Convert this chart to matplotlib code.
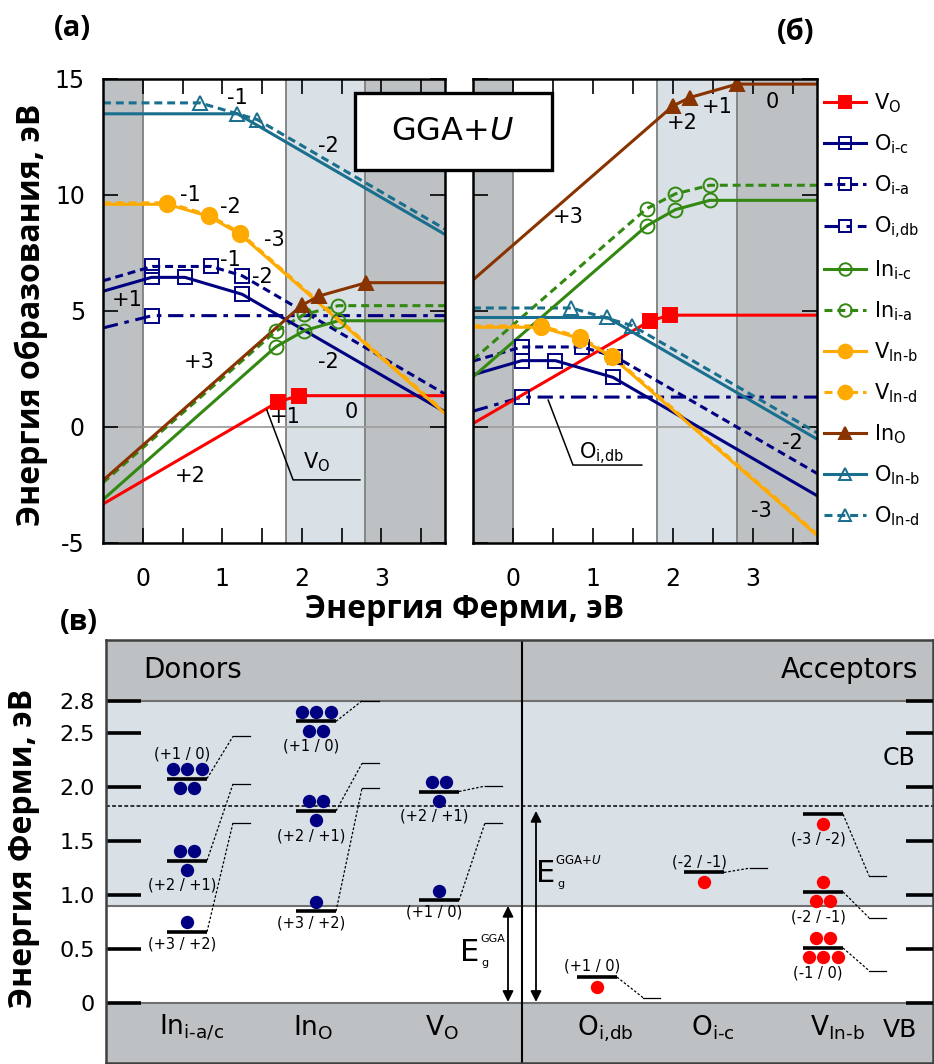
import matplotlib.pyplot as plt
from matplotlib.lines import Line2D
from matplotlib.patches import Rectangle

plt.rcParams['font.family'] = ['DejaVu Sans']
plt.rcParams['mathtext.fontset'] = 'dejavusans'
plt.rcParams['axes.unicode_minus'] = False

# ---- panel (a): formation energy vs Fermi level, breakpoints (x, y) ----
a_vo_x = [-0.5, 1.70, 1.96, 3.8]
a_vo_y = [-3.32, 1.08, 1.35, 1.35]
a_oic_x = [-0.5, 0.11, 0.53, 1.25, 3.8]
a_oic_y = [5.85, 6.45, 6.45, 5.72, 0.65]
a_oia_x = [-0.5, 0.12, 0.86, 1.25, 3.8]
a_oia_y = [6.30, 6.92, 6.92, 6.52, 1.42]
a_oidb_x = [-0.5, 0.12, 3.8]
a_oidb_y = [4.27, 4.80, 4.80]
a_inic_x = [-0.5, 1.67, 2.03, 2.46, 3.8]
a_inic_y = [-3.13, 3.45, 4.15, 4.58, 4.58]
a_inia_x = [-0.5, 1.67, 2.03, 2.46, 3.8]
a_inia_y = [-2.40, 4.12, 4.85, 5.23, 5.23]
a_vinb_x = [-0.5, 0.31, 0.83, 1.22, 3.8]
a_vinb_y = [9.60, 9.60, 9.08, 8.32, 0.58]
a_vind_x = [-0.5, 0.31, 0.83, 1.22, 3.8]
a_vind_y = [9.66, 9.66, 9.14, 8.38, 0.64]
a_ino_x = [-0.5, 2.00, 2.22, 2.81, 3.8]
a_ino_y = [-2.30, 5.25, 5.65, 6.22, 6.22]
a_oinb_x = [-0.5, 1.19, 3.8]
a_oinb_y = [13.50, 13.50, 8.30]
a_oind_x = [-0.5, 0.72, 1.44, 3.8]
a_oind_y = [13.97, 13.97, 13.25, 8.53]

# ---- panel (б) ----
b_vo_x = [-0.5, 1.71, 1.96, 3.8]
b_vo_y = [0.15, 4.57, 4.82, 4.82]
b_oic_x = [-0.5, 0.11, 0.53, 1.25, 3.8]
b_oic_y = [2.25, 2.86, 2.86, 2.14, -2.96]
b_oia_x = [-0.5, 0.11, 0.86, 1.28, 3.8]
b_oia_y = [2.84, 3.45, 3.45, 3.03, -2.00]
b_oidb_x = [-0.5, 0.11, 3.8]
b_oidb_y = [0.68, 1.29, 1.29]
b_inic_x = [-0.5, 1.67, 2.03, 2.46, 3.8]
b_inic_y = [2.16, 8.67, 9.37, 9.77, 9.77]
b_inia_x = [-0.5, 1.67, 2.03, 2.46, 3.8]
b_inia_y = [2.90, 9.41, 10.05, 10.42, 10.42]
b_vinb_x = [-0.5, 0.35, 0.84, 1.24, 3.8]
b_vinb_y = [4.30, 4.30, 3.81, 3.01, -4.67]
b_vind_x = [-0.5, 0.35, 0.84, 1.24, 3.8]
b_vind_y = [4.36, 4.36, 3.87, 3.07, -4.61]
b_ino_x = [-0.5, 2.00, 2.21, 2.80, 3.8]
b_ino_y = [6.34, 13.84, 14.20, 14.78, 14.78]
b_oinb_x = [-0.5, 1.18, 3.8]
b_oinb_y = [4.72, 4.72, -0.52]
b_oind_x = [-0.5, 0.73, 1.49, 3.8]
b_oind_y = [5.13, 5.13, 4.37, -0.25]

series_names = [r'V$_\mathrm{O}$', r'O$_\mathrm{i‐c}$', r'O$_\mathrm{i‐a}$', r'O$_\mathrm{i{,}db}$',
                r'In$_\mathrm{i‐c}$', r'In$_\mathrm{i‐a}$', r'V$_\mathrm{In‐b}$', r'V$_\mathrm{In‐d}$',
                r'In$_\mathrm{O}$', r'O$_\mathrm{In‐b}$', r'O$_\mathrm{In‐d}$']

# charge-state labels (text, x, y)
a_charges = [('-1', 1.19, 14.2), ('-2', 2.33, 12.1), ('-1', 0.60, 10.0), ('-2', 1.10, 9.5),
             ('-3', 1.65, 8.06), ('-1', 1.10, 7.2), ('-2', 1.50, 6.47), ('+1', -0.20, 5.47),
             ('+3', 0.71, 2.8), ('-2', 2.33, 2.8), ('+1', 1.79, 0.43), ('0', 2.62, 0.65),
             ('+2', 0.60, -2.1)]
b_charges = [('+2', 2.12, 13.1), ('+1', 2.55, 13.8), ('0', 3.24, 14.0), ('+3', 0.69, 9.05),
             ('-2', 3.49, -0.69), ('-3', 3.11, -3.6)]

# ---- panel (в): transition levels ----
col_names = [r'In$_\mathrm{i‐a/c}$', r'In$_\mathrm{O}$', r'V$_\mathrm{O}$',
             r'O$_\mathrm{i{,}db}$', r'O$_\mathrm{i‐c}$', r'V$_\mathrm{In‐b}$']
lvl_col = [0, 0, 0, 1, 1, 1, 2, 2, 3, 4, 5, 5, 5]
lvl_name = ['(+1 / 0)', '(+2 / +1)', '(+3 / +2)', '(+1 / 0)', '(+2 / +1)', '(+3 / +2)',
            '(+2 / +1)', '(+1 / 0)', '(+1 / 0)', '(-2 / -1)', '(-3 / -2)', '(-2 / -1)', '(-1 / 0)']
lvl_E = [2.08, 1.32, 0.66, 2.61, 1.78, 0.85, 1.96, 0.95, 0.24, 1.21, 1.75, 1.03, 0.51]
lvl_E_gga = [2.47, 2.03, 1.67, 2.80, 2.22, 1.99, 2.01, 1.67, 0.05, 1.25, 1.18, 0.79, 0.30]
lvl_dots_up = [3, 2, 1, 3, 2, 1, 2, 1, 0, 0, 0, 1, 2]
lvl_dots_dn = [2, 1, 0, 2, 1, 0, 1, 0, 1, 1, 1, 2, 3]
lvl_label_up = [True, False, False, False, False, False, False, False, True, True, False, False, False]
gap_gga = 0.9
gap_ggau = 1.83
cb_edge = 2.8

# colours / styles
dark = '#bdc1c4'
light = '#d9e0e6'
edge = '#7f7f7f'
c_red, c_navy, c_green = '#ff0000', '#000080', '#338811'
c_orange, c_brown, c_teal = '#ffaa00', '#883300', '#1a6e8e'
dash = (0, (2.6, 1.6))
dashdot = (0, (5, 2.2, 1.5, 2.2))
styles = [
    dict(color=c_red, ls='-', marker='s', mfc=c_red, ms=10),
    dict(color=c_navy, ls='-', marker='s', mfc='none', ms=10),
    dict(color=c_navy, ls=dash, marker='s', mfc='none', ms=10),
    dict(color=c_navy, ls=dashdot, marker='s', mfc='none', ms=10),
    dict(color=c_green, ls='-', marker='o', mfc='none', ms=10),
    dict(color=c_green, ls=dash, marker='o', mfc='none', ms=10),
    dict(color=c_orange, ls='-', marker='o', mfc=c_orange, ms=11),
    dict(color=c_orange, ls=dash, marker='o', mfc=c_orange, ms=11),
    dict(color=c_brown, ls='-', marker='^', mfc=c_brown, ms=10),
    dict(color=c_teal, ls='-', marker='^', mfc='none', ms=10),
    dict(color=c_teal, ls=dash, marker='^', mfc='none', ms=10),
]

fig = plt.figure(figsize=(9.34, 10.64), dpi=100)
W, H = 934.0, 1064.0
axA = fig.add_axes([103 / W, 1 - 543 / H, 342 / W, 464 / H])
axB = fig.add_axes([473 / W, 1 - 543 / H, 344 / W, 464 / H])


def top_panel(ax, data, charges, ylab):
    ax.set_xlim(-0.5, 3.8)
    ax.set_ylim(-5, 15)
    ax.axvspan(-0.5, 0, color=dark, lw=0, zorder=0)
    ax.axvspan(1.8, 2.8, color=light, lw=0, zorder=0)
    ax.axvspan(2.8, 3.8, color=dark, lw=0, zorder=0)
    for xv in [0, 1.8, 2.8]:
        ax.axvline(xv, color=edge, lw=1.3, zorder=1)
    ax.axhline(0, color='#a0a0a0', lw=1.3, zorder=1)
    # draw dashed versions first so solid ones sit on top
    order = [2, 3, 5, 7, 10, 0, 1, 4, 6, 8, 9]
    for k in order:
        xs, ys = data[k]
        st = styles[k]
        ax.plot(xs, ys, color=st['color'], ls=st['ls'], lw=2.2, zorder=3)
        ax.plot(xs[1:-1], ys[1:-1], ls='none', marker=st['marker'], ms=st['ms'],
                mfc=st['mfc'], mec=st['color'], mew=1.4, zorder=4)
    for t, x, y in charges:
        ax.text(x, y, t, fontsize=15, ha='center', va='center', zorder=5)
    ax.set_xticks([0, 1, 2, 3])
    ax.set_xticks([0.5, 1.5, 2.5, 3.5], minor=True)
    ax.set_yticks([-5, 0, 5, 10, 15])
    ax.tick_params(which='both', direction='in', length=11, width=1.2,
                   top=True, right=True, labelsize=17)
    ax.tick_params(axis='x', pad=17)
    ax.tick_params(axis='y', pad=13, labelleft=ylab)
    for s in ax.spines.values():
        s.set_linewidth(1.8)
        s.set_zorder(6)


dataA = [(a_vo_x, a_vo_y), (a_oic_x, a_oic_y), (a_oia_x, a_oia_y), (a_oidb_x, a_oidb_y),
         (a_inic_x, a_inic_y), (a_inia_x, a_inia_y), (a_vinb_x, a_vinb_y), (a_vind_x, a_vind_y),
         (a_ino_x, a_ino_y), (a_oinb_x, a_oinb_y), (a_oind_x, a_oind_y)]
dataB = [(b_vo_x, b_vo_y), (b_oic_x, b_oic_y), (b_oia_x, b_oia_y), (b_oidb_x, b_oidb_y),
         (b_inic_x, b_inic_y), (b_inia_x, b_inia_y), (b_vinb_x, b_vinb_y), (b_vind_x, b_vind_y),
         (b_ino_x, b_ino_y), (b_oinb_x, b_oinb_y), (b_oind_x, b_oind_y)]
top_panel(axA, dataA, a_charges, True)
top_panel(axB, dataB, b_charges, False)

# leader lines with labels
axA.plot([1.56, 1.89, 2.73], [0.73, -2.28, -2.28], color='k', lw=1.1, zorder=5)
axA.text(2.19, -1.5, r'V$_\mathrm{O}$', fontsize=15, ha='center', va='center')
axB.plot([0.44, 0.75, 1.61], [1.16, -1.64, -1.64], color='k', lw=1.1, zorder=5)
axB.text(1.11, -1.16, r'O$_\mathrm{i{,}db}$', fontsize=15, ha='center', va='center')

# GGA+U box between the panels
fig.add_artist(Rectangle((355 / W, 1 - 170 / H), 197 / W, 77 / H, transform=fig.transFigure,
                         facecolor='white', edgecolor='black', lw=2.4, zorder=10))
fig.text(453 / W, 1 - 132 / H, r'GGA+$U$', fontsize=23, ha='center', va='center', zorder=11)

# legend
handles = []
for st in styles:
    handles.append(Line2D([0], [0], color=st['color'], ls=st['ls'], lw=2.2, marker=st['marker'],
                          ms=st['ms'] * 0.9, mfc=st['mfc'], mec=st['color'], mew=1.4))
fig.legend(handles, series_names, loc='upper left', bbox_to_anchor=(824 / W, 1 - 91 / H),
           frameon=False, fontsize=15, handlelength=2.0, handletextpad=0.4,
           labelspacing=0.84, borderaxespad=0, borderpad=0)

bold = dict(family=['Open Sans', 'DejaVu Sans'], weight='bold', fontsize=23)
fig.text(465 / W, 1 - 610 / H, 'Энергия Ферми, эВ', ha='center', va='center', **bold)
fig.text(31 / W, 1 - 315 / H, 'Энергия образования, эВ', ha='center', va='center',
         rotation=90, **bold)
fig.text(24 / W, 1 - 848 / H, 'Энергия Ферми, эВ', ha='center', va='center', rotation=90, **bold)
panel = dict(family=['Open Sans', 'DejaVu Sans'], weight='bold', fontsize=21)
fig.text(72 / W, 1 - 29 / H, '(а)', ha='center', va='center', **panel)
fig.text(796 / W, 1 - 32 / H, '(б)', ha='center', va='center', **panel)
fig.text(79 / W, 1 - 622 / H, '(в)', ha='center', va='center', **panel)

# ---- bottom panel ----
axC = fig.add_axes([106 / W, 1 - 1063 / H, 827 / W, 423 / H])
col_x = [187, 316, 439, 597, 704, 823]
col_lab_x = [192, 313, 442, 605, 713, 837]
axC.set_xlim(106, 933)
axC.set_ylim(-0.556, 3.364)
axC.axhspan(-0.556, 0, color=dark, lw=0, zorder=0)
axC.axhspan(gap_gga, cb_edge, color=light, lw=0, zorder=0)
axC.axhspan(cb_edge, 3.364, color=dark, lw=0, zorder=0)
for yv in [0, gap_gga, cb_edge]:
    axC.axhline(yv, color='#707070', lw=1.5, zorder=1)
axC.axhline(gap_ggau, color='k', lw=1.1, ls=(0, (2.5, 1.5)), zorder=2)
axC.axvline(522, color='k', lw=1.5, zorder=2)

dy = 0.088
for i in range(len(lvl_E)):
    c = col_x[lvl_col[i]]
    E = lvl_E[i]
    axC.plot([c - 20, c + 20], [E, E], color='k', lw=2.6, zorder=4, solid_capstyle='butt')
    dot_c = c_navy if lvl_col[i] < 3 else c_red
    n = lvl_dots_up[i]
    if n:
        axC.plot([c + (k - (n - 1) / 2) * 14.5 for k in range(n)], [E + dy] * n, 'o',
                 color=dot_c, ms=9.6, mew=0, zorder=5)
    n = lvl_dots_dn[i]
    if n:
        axC.plot([c + (k - (n - 1) / 2) * 14.5 for k in range(n)], [E - dy] * n, 'o',
                 color=dot_c, ms=9.6, mew=0, zorder=5)
    axC.plot([c + 20, c + 46], [E, lvl_E_gga[i]], color='k', lw=0.9, ls=(0, (2, 1.5)), zorder=3)
    axC.plot([c + 46, c + 63], [lvl_E_gga[i], lvl_E_gga[i]], color='k', lw=0.9, zorder=3)
    if lvl_label_up[i]:
        off = 0.23 if lvl_dots_up[i] else 0.1
        ly = E + off
    else:
        off = 0.23 if lvl_dots_dn[i] else 0.11
        ly = E - off
    axC.text(c - 5, ly, lvl_name[i], fontsize=10.5, ha='center', va='center', zorder=6)

for x, t in zip(col_lab_x, col_names):
    axC.text(x, -0.30, t, fontsize=19, ha='center', va='baseline')
axC.text(143, 3.01, 'Donors', fontsize=20, ha='left', va='baseline')
axC.text(918, 3.01, 'Acceptors', fontsize=20, ha='right', va='baseline')
axC.text(899, 2.27, 'CB', fontsize=17, ha='center', va='center')
axC.text(900, -0.25, 'VB', fontsize=18, ha='center', va='center')

arrow = dict(arrowstyle='<|-|>', color='k', lw=1.3, shrinkA=0, shrinkB=0, mutation_scale=16)
axC.annotate('', xy=(508, gap_gga), xytext=(508, 0.01), arrowprops=arrow, zorder=6)
axC.annotate('', xy=(536, gap_ggau - 0.05), xytext=(536, 0.01), arrowprops=arrow, zorder=6)
axC.text(470, 0.47, 'E', fontsize=22, ha='center', va='center')
axC.text(480, 0.59, 'GGA', fontsize=8, ha='left', va='center')
axC.text(481, 0.37, 'g', fontsize=8, ha='left', va='center')
axC.text(546, 1.20, 'E', fontsize=22, ha='center', va='center')
axC.text(555, 1.32, r'GGA+$U$', fontsize=8.5, ha='left', va='center')
axC.text(557, 1.10, 'g', fontsize=8, ha='left', va='center')

yt = [0, 0.5, 1.0, 1.5, 2.0, 2.5, 2.8]
axC.set_yticks(yt)
axC.set_yticklabels(['0', '0.5', '1.0', '1.5', '2.0', '2.5', '2.8'])
axC.set_xticks([])
axC.tick_params(axis='y', direction='in', length=25, width=2.6, labelsize=16, pad=8)
axC.hlines(yt, 0.967, 1.0, transform=axC.get_yaxis_transform(), color='k', lw=2.6, zorder=4)
for s in axC.spines.values():
    s.set_linewidth(1.8)
    s.set_color('#404040')

fig.savefig('out.png', dpi=100)
